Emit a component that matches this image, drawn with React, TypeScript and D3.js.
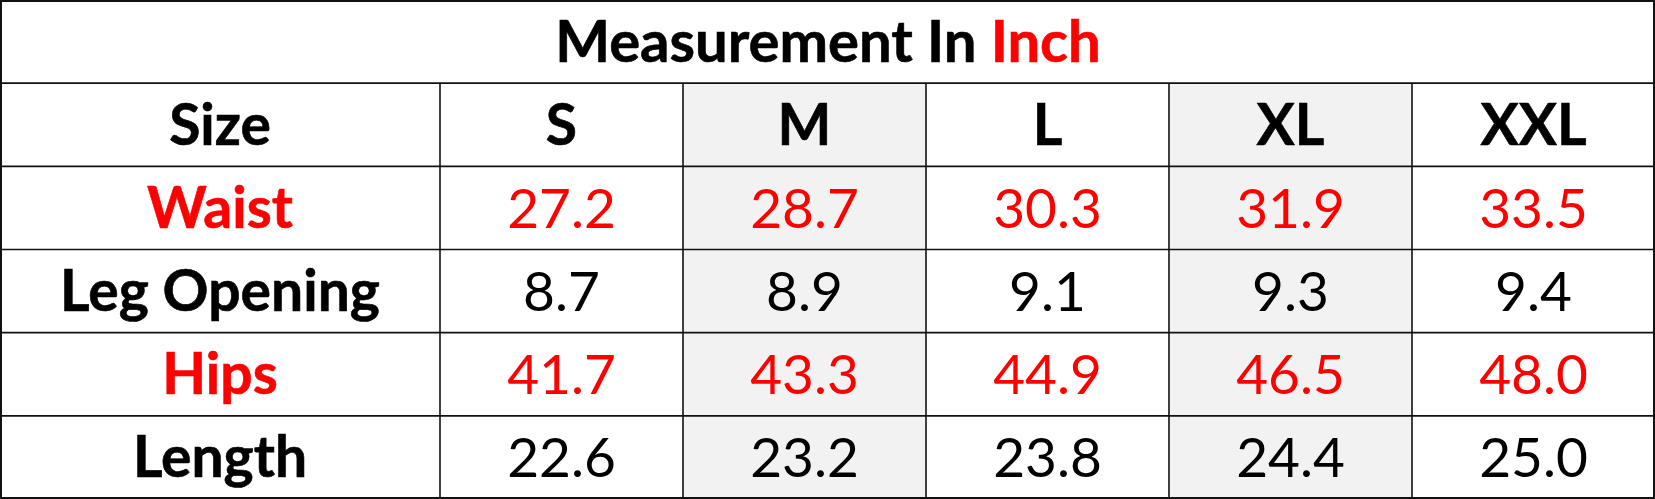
import * as d3 from "d3";

const W = 1655;
const H = 499;
const LABEL_W = 440;

const sizes = ["S", "M", "L", "XL", "XXL"];
const shadedSizes = ["M", "XL"];
const measureNames = ["Waist", "Leg Opening", "Hips", "Length"];
const redMeasures = ["Waist", "Hips"];
const waist = ["27.2", "28.7", "30.3", "31.9", "33.5"];
const legOpening = ["8.7", "8.9", "9.1", "9.3", "9.4"];
const hips = ["41.7", "43.3", "44.9", "46.5", "48.0"];
const length = ["22.6", "23.2", "23.8", "24.4", "25.0"];
const values = [waist, legOpening, hips, length];

const rowKeys = ["title", "Size", ...measureNames];

const FONT = "Lato, 'Open Sans', sans-serif";
const RED = "#ff0000";
const LINE = "#111";

export default function App() {
  const x = d3.scaleBand<string>().domain(sizes).range([LABEL_W, W]);
  const y = d3.scaleBand<string>().domain(rowKeys).range([0, H]);
  const rh = y.bandwidth();
  const cx = (s: string) => (x(s) ?? 0) + x.bandwidth() / 2;
  const baseline = (k: string, cap: number) => (y(k) ?? 0) + rh / 2 + cap / 2;

  return (
    <>
      <style>{`body{margin:0;background:#fff}`}</style>
      <svg width={W} height={H} viewBox={`0 0 ${W} ${H}`} style={{ display: "block" }}>
        <rect x={0} y={0} width={W} height={H} fill="#fff" />

        {/* grey columns */}
        {shadedSizes.map((s) => (
          <rect
            key={s}
            x={x(s)}
            y={y("Size")}
            width={x.bandwidth()}
            height={H - (y("Size") ?? 0)}
            fill="#f2f2f2"
          />
        ))}

        {/* grid */}
        {rowKeys.slice(1).map((k) => (
          <line key={k} x1={0} x2={W} y1={y(k)} y2={y(k)} stroke={LINE} strokeWidth={1.6} />
        ))}
        {sizes.map((s) => (
          <line key={s} x1={x(s)} x2={x(s)} y1={y("Size")} y2={H} stroke={LINE} strokeWidth={1.6} />
        ))}
        <rect x={1} y={1} width={W - 2} height={H - 2} fill="none" stroke={LINE} strokeWidth={2} />

        {/* title */}
        <text
          x={828}
          y={baseline("title", 41)}
          textAnchor="middle"
          fontFamily={FONT}
          fontWeight={700}
          fontSize={58}
          fill="#000"
          stroke="#000"
          strokeWidth={0.6}
        >
          Measurement In{" "}
          <tspan fill={RED} stroke={RED}>
            Inch
          </tspan>
        </text>

        {/* header row */}
        <text
          x={LABEL_W / 2}
          y={baseline("Size", 40)}
          textAnchor="middle"
          fontFamily={FONT}
          fontWeight={700}
          fontSize={57}
          stroke="#000"
          strokeWidth={0.6}
        >
          Size
        </text>
        {sizes.map((s) => (
          <text
            key={s}
            x={cx(s)}
            y={baseline("Size", 40)}
            textAnchor="middle"
            fontFamily={FONT}
            fontWeight={700}
            fontSize={57}
            stroke="#000"
            strokeWidth={0.6}
          >
            {s}
          </text>
        ))}

        {/* measurement rows */}
        {measureNames.map((m, i) => {
          const color = redMeasures.includes(m) ? RED : "#000";
          return (
            <g key={m}>
              <text
                x={LABEL_W / 2}
                y={baseline(m, 40)}
                textAnchor="middle"
                fontFamily={FONT}
                fontWeight={700}
                fontSize={57}
                fill={color}
                stroke={color}
                strokeWidth={0.6}
              >
                {m}
              </text>
              {values[i].map((v, j) => (
                <text
                  key={sizes[j]}
                  x={cx(sizes[j])}
                  y={baseline(m, 40)}
                  textAnchor="middle"
                  fontFamily={FONT}
                  fontWeight={400}
                  fontSize={55}
                  fill={color}
                >
                  {v}
                </text>
              ))}
            </g>
          );
        })}
      </svg>
    </>
  );
}
